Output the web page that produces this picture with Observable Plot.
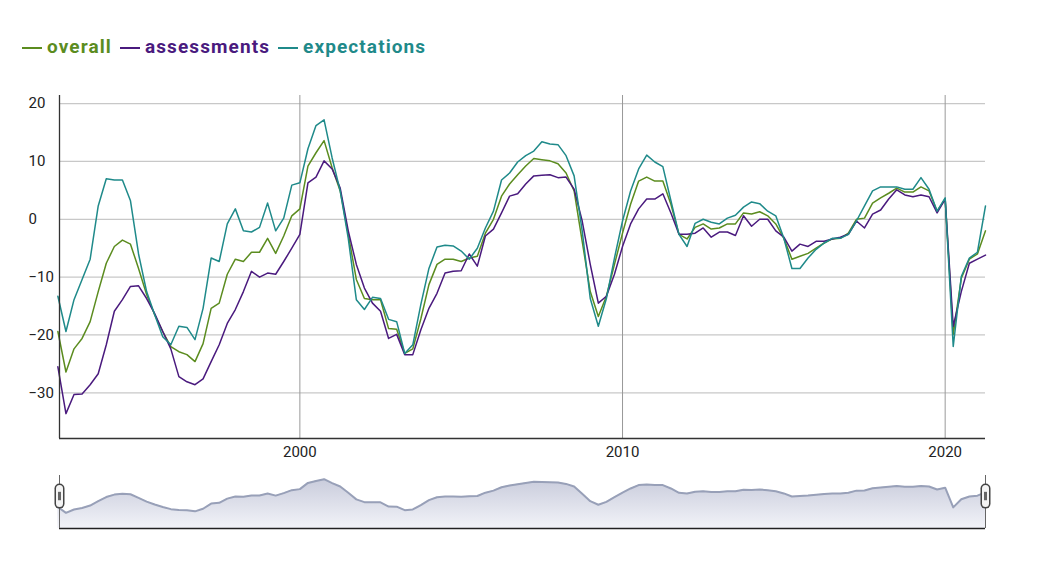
<!DOCTYPE html>
<html><head><meta charset="utf-8">
<script src="https://cdn.jsdelivr.net/npm/d3@7"></script>
<script src="https://cdn.jsdelivr.net/npm/@observablehq/plot@0.6"></script>
<style>
body{margin:0;background:#fff;font-family:Roboto,"DejaVu Sans",sans-serif;}
#wrap{position:relative;width:1037px;height:565px;}
#legend{position:absolute;left:22px;top:35px;font-size:19px;font-weight:bold;display:flex;gap:8px;letter-spacing:1.1px;}
#legend span.sw{display:inline-block;width:20px;height:2px;vertical-align:middle;margin-right:5px;}
#main{position:absolute;left:0;top:0;}
#nav{position:absolute;left:0;top:460px;}
</style></head>
<body><div id="wrap"><div id="legend"></div><div id="main"></div><div id="nav"></div></div>
<script>
const startYear = 1992.5;
const seriesNames = ["overall","assessments","expectations"];
const colors = ["#5b8c1f","#4a1a7e","#1f8a8a"];
const overall = [-19.4,-26.4,-22.4,-20.6,-17.7,-12.5,-7.6,-4.7,-3.6,-4.3,-8.5,-13.0,-16.5,-19.4,-22.0,-22.9,-23.4,-24.6,-21.5,-15.4,-14.5,-9.5,-6.9,-7.3,-5.7,-5.7,-3.3,-5.9,-2.9,0.6,1.8,9.2,11.5,13.6,8.9,4.9,-2.6,-10.4,-13.7,-13.9,
-13.9,-18.9,-19.0,-23.2,-22.4,-17.2,-11.3,-7.8,-6.9,-6.9,-7.3,-6.7,-6.4,-2.4,0.0,4.0,6.1,7.7,9.2,10.5,10.3,10.1,9.6,8.0,4.9,-3.8,-12.5,-16.8,-13.3,-7.8,-2.4,2.6,6.6,7.3,6.6,6.6,2.6,-2.6,
-3.4,-1.4,-0.8,-1.7,-1.5,-0.8,-0.8,1.1,0.9,1.3,0.6,-0.8,-3.3,-6.9,-6.4,-5.9,-5.0,-4.1,-3.4,-3.3,-2.4,0.0,0.2,2.8,3.7,4.5,5.4,4.7,4.7,5.6,4.9,1.4,3.5,-19.9,-10.2,-6.9,-6.0,-2.0];
const assessments = [-25.5,-33.6,-30.3,-30.2,-28.6,-26.7,-21.7,-15.9,-13.9,-11.6,-11.5,-13.7,-16.3,-19.4,-22.4,-27.2,-28.1,-28.6,-27.6,-24.6,-21.7,-18.0,-15.6,-12.5,-9.0,-10.0,-9.3,-9.5,-7.3,-5.0,-2.6,6.3,7.3,10.1,8.7,5.4,-2.0,-7.8,-11.9,-14.5,
-15.9,-20.6,-19.9,-23.4,-23.4,-19.1,-15.4,-12.8,-9.3,-9.0,-8.9,-6.0,-8.1,-2.9,-1.7,1.1,4.0,4.4,6.1,7.5,7.6,7.7,7.2,7.3,5.2,-0.3,-7.8,-14.5,-13.3,-9.5,-4.7,-0.8,1.8,3.5,3.5,4.4,1.1,-2.6,
-2.6,-2.4,-1.5,-3.1,-2.2,-2.2,-2.8,0.6,-1.2,0.0,0.0,-2.0,-3.1,-5.5,-4.3,-4.7,-3.8,-3.8,-3.4,-3.1,-2.6,-0.3,-1.5,0.9,1.6,3.5,5.1,4.2,3.9,4.2,3.9,1.1,3.5,-18.5,-12.5,-7.6,-6.9,-6.2];
const expectations = [-13.3,-19.4,-13.9,-10.4,-6.9,2.3,7.0,6.8,6.8,3.2,-6.0,-12.5,-16.5,-20.3,-21.7,-18.5,-18.7,-20.8,-15.4,-6.7,-7.3,-0.8,1.8,-2.0,-2.2,-1.4,2.8,-2.0,0.2,5.9,6.3,12.2,16.2,17.2,10.6,4.9,-3.3,-13.9,-15.6,-13.5,
-13.7,-17.3,-17.7,-23.2,-21.7,-14.7,-8.5,-4.8,-4.5,-4.6,-5.5,-6.9,-5.0,-1.5,1.4,6.8,8.0,9.9,11.0,11.8,13.4,13.0,12.9,11.0,7.5,-2.0,-13.7,-18.5,-13.7,-6.7,-0.3,4.9,8.7,11.1,9.9,9.1,3.2,-2.6,
-4.7,-0.7,0.0,-0.5,-0.8,0.2,0.7,2.1,3.0,2.7,1.4,0.6,-3.3,-8.5,-8.5,-6.7,-5.2,-4.1,-3.3,-3.3,-2.6,-0.3,2.3,4.9,5.6,5.6,5.6,5.2,5.2,7.2,5.2,1.4,3.7,-22.0,-9.9,-6.7,-5.7,2.3];
const yTicks = [-30,-20,-10,0,10,20];
const xTicks = [2000,2010,2020];

const arrs = [overall, assessments, expectations];
const data = [];
arrs.forEach((a,k)=>a.forEach((v,i)=>data.push({t:startYear+i*0.25, v, s:seriesNames[k]})));
const navData = overall.map((v,i)=>({t:startYear+i*0.25, v}));
const xDom = [1992.55, 2021.25];

document.getElementById("legend").innerHTML = seriesNames.map((n,k)=>
  `<span style="color:${colors[k]}"><span class="sw" style="background:${colors[k]}"></span>${n}</span>`).join("");

const main = Plot.plot({
  width:1037, height:460, marginTop:95, marginBottom:22, marginLeft:59, marginRight:52,
  style:{fontSize:"15px", fontFamily:"Roboto, DejaVu Sans, sans-serif", color:"#222"},
  x:{domain:xDom, ticks:xTicks, tickFormat:"d", label:null, tickSize:0, tickPadding:8},
  y:{domain:[-37.9,21.4], ticks:yTicks, label:null, tickSize:0, tickPadding:25},
  color:{domain:seriesNames, range:colors},
  marks:[
    Plot.ruleY(yTicks,{stroke:"#c8c8c8", strokeWidth:1.3}),
    Plot.ruleX(xTicks,{stroke:"#999", strokeWidth:1}),
    Plot.lineY(data,{x:"t", y:"v", stroke:"s", strokeWidth:1.5, z:"s"}),
    Plot.axisX({ticks:xTicks, tickFormat:"d", tickSize:0, tickPadding:8, fontSize:15}),
    Plot.axisY({ticks:yTicks, tickSize:0, tickPadding:25, fontSize:15, textAnchor:"start", dx:-6}),
    Plot.ruleX([xDom[0]],{stroke:"#333", strokeWidth:1.3}),
    Plot.ruleY([-37.9],{stroke:"#333", strokeWidth:1.3})
  ]
});
document.getElementById("main").append(main);

const nav = Plot.plot({
  width:1037, height:105, marginTop:15, marginBottom:37, marginLeft:59, marginRight:52,
  x:{domain:xDom, axis:null},
  y:{domain:[-45,18], axis:null},
  marks:[
    () => {
      const ns="http://www.w3.org/2000/svg";
      const defs=document.createElementNS(ns,"defs");
      defs.innerHTML=`<linearGradient id="g" x1="0" x2="0" y1="0" y2="1"><stop offset="0" stop-color="#c9ccdc"/><stop offset="1" stop-color="#f2f3f8"/></linearGradient>`;
      return defs;
    },
    Plot.areaY(navData,{x:"t", y1:-45, y2:"v", fill:"url(#g)"}),
    Plot.lineY(navData,{x:"t", y:"v", stroke:"#98a0b8", strokeWidth:2}),
    Plot.ruleY([-45],{stroke:"#222", strokeWidth:1.5}),
    Plot.ruleX([xDom[0], xDom[1]],{y1:-45, y2:18, stroke:"#666", strokeWidth:1}),
    Plot.ruleX([xDom[0], xDom[1]],{y1:-16, y2:2, stroke:"#444", strokeWidth:10, strokeLinecap:"round"}),
    Plot.ruleX([xDom[0], xDom[1]],{y1:-16, y2:2, stroke:"#f4f4f4", strokeWidth:7, strokeLinecap:"round"}),
    Plot.ruleX([xDom[0], xDom[1]],{y1:-12, y2:-2, stroke:"#666", strokeWidth:3})
  ]
});
document.getElementById("nav").append(nav);
</script></body></html>
